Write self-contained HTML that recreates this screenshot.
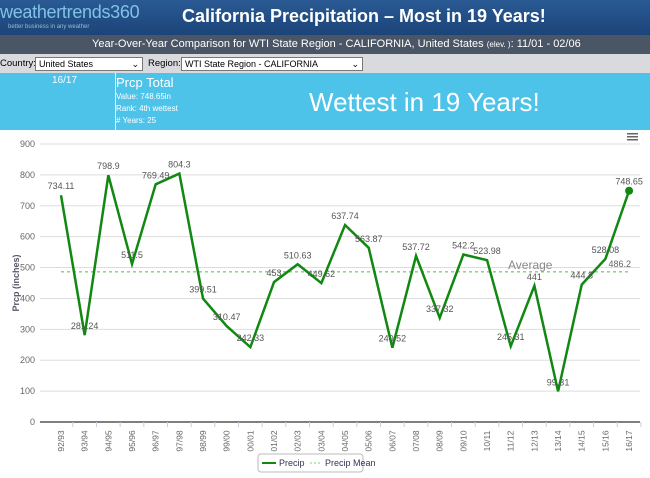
<!DOCTYPE html><html><head><style>
body{margin:0;width:650px;height:478px;overflow:hidden;background:#fff;font-family:"Liberation Sans",sans-serif}
.h{position:absolute;left:0;top:0;width:650px;height:35px;background:linear-gradient(#2a5a94,#1c4479)}
.s{position:absolute;left:0;top:35px;width:650px;height:19px;background:#4a5566;color:#fff;font-size:11px;line-height:19px}
.c{position:absolute;left:0;top:54px;width:650px;height:19px;background:#d8dade;font-size:9.5px}
.b{position:absolute;left:0;top:73px;width:650px;height:57px;background:#4ec3ea;color:#fff}
.sel{position:absolute;top:3px;height:12px;border:1px solid #777;background:#fff;font-size:9px;line-height:12px;padding-left:3px}
</style></head><body>
<div class="h">
<div style="position:absolute;left:0;top:2px;font-size:18px;color:#7fc3e6;letter-spacing:-0.3px">weathertrends360</div>
<div style="position:absolute;left:8px;top:24px;font-size:6px;color:#9bc">better business in any weather</div>
<div style="position:absolute;left:182px;top:6px;font-size:18px;font-weight:bold;color:#fff">California Precipitation – Most in 19 Years!</div>
</div>
<div class="s"><span style="position:absolute;left:92px">Year-Over-Year Comparison for WTI State Region - CALIFORNIA, United States <small style="font-size:8px">(elev. )</small>: 11/01 - 02/06</span></div>
<div class="c"><span style="position:absolute;left:0;top:4px">Country:</span><div class="sel" style="left:35px;width:103px">United States<span style="float:right;margin-right:3px">⌄</span></div>
<span style="position:absolute;left:148px;top:4px">Region:</span><div class="sel" style="left:181px;width:177px">WTI State Region - CALIFORNIA<span style="float:right;margin-right:3px">⌄</span></div></div>
<div class="b"><div style="position:absolute;left:115px;top:0;width:1px;height:57px;background:#dff"></div>
<div style="position:absolute;left:52px;top:2px;font-size:10px">16/17</div>
<div style="position:absolute;left:116px;top:2px;font-size:13px">Prcp Total</div>
<div style="position:absolute;left:116px;top:18px;font-size:8px;line-height:12px">Value: 748.65in<br>Rank: 4th wettest<br># Years: 25</div>
<div style="position:absolute;left:309px;top:14px;font-size:26px">Wettest in 19 Years!</div></div>
<svg id="g" width="650" height="478" style="position:absolute;left:0;top:0" font-family="Liberation Sans,sans-serif"></svg>
<script>
var d=[734.11,281.24,798.9,511.5,769.49,804.3,399.51,310.47,242.33,453,510.63,449.62,637.74,563.87,240.52,537.72,337.32,542.2,523.98,245.31,441,99.31,444.8,528.08,748.65];
var lb=["92/93","93/94","94/95","95/96","96/97","97/98","98/99","99/00","00/01","01/02","02/03","03/04","04/05","05/06","06/07","07/08","08/09","09/10","10/11","11/12","12/13","13/14","14/15","15/16","16/17"];
function Y(v){return 422-v*0.3089}function X(i){return 61+i*23.67}
var s='';
for(var v=100;v<=900;v+=100)s+='<line x1="40" x2="640" y1="'+Y(v)+'" y2="'+Y(v)+'" stroke="#ddd"/>';
for(v=0;v<=900;v+=100)s+='<text x="35" y="'+(Y(v)+3)+'" font-size="9" fill="#666" text-anchor="end">'+v+'</text>';
s+='<line x1="40" x2="640" y1="422" y2="422" stroke="#555" stroke-width="1.5"/>';
s+='<text transform="translate(19,283) rotate(-90)" font-size="9" fill="#556" font-weight="bold" text-anchor="middle">Prcp (inches)</text>';
for(var i=0;i<25;i++){s+='<line x1="'+(X(i)+11.8)+'" x2="'+(X(i)+11.8)+'" y1="422" y2="427" stroke="#ccd"/>';
s+='<text transform="translate('+(X(i)+3)+',441) rotate(-90)" font-size="8.5" fill="#666" text-anchor="middle">'+lb[i]+'</text>';}
s+='<line x1="61" x2="630" y1="'+Y(486.2)+'" y2="'+Y(486.2)+'" stroke="#7ccf7c" stroke-dasharray="3,3" stroke-width="1.3"/>';
s+='<text x="508" y="269" font-size="12" fill="#888">Average</text><text x="631" y="267" font-size="9" fill="#666" text-anchor="end">486.2</text>';
var p='';for(i=0;i<25;i++)p+=(i?'L':'M')+X(i)+','+Y(d[i]);
s+='<path d="'+p+'" fill="none" stroke="#118811" stroke-width="2.5" stroke-linejoin="miter"/>';
s+='<circle cx="'+X(24)+'" cy="'+Y(d[24])+'" r="4" fill="#118811"/>';
for(i=0;i<25;i++)s+='<text x="'+X(i)+'" y="'+(Y(d[i])-6)+'" font-size="9" fill="#555" text-anchor="middle">'+d[i]+'</text>';
s+='<rect x="258" y="454" width="105" height="18" rx="3" fill="#fff" stroke="#bbb"/>';
s+='<line x1="262" x2="276" y1="463" y2="463" stroke="#118811" stroke-width="2"/><text x="279" y="466" font-size="9" fill="#335">Precip</text>';
s+='<line x1="310" x2="322" y1="463" y2="463" stroke="#7ccf7c" stroke-dasharray="2,2"/><text x="325" y="466" font-size="9" fill="#335">Precip Mean</text>';
s+='<g fill="#666"><rect x="627" y="133" width="11" height="1.5"/><rect x="627" y="136" width="11" height="1.5"/><rect x="627" y="139" width="11" height="1.5"/></g>';
document.getElementById('g').innerHTML=s;
</script></body></html>
